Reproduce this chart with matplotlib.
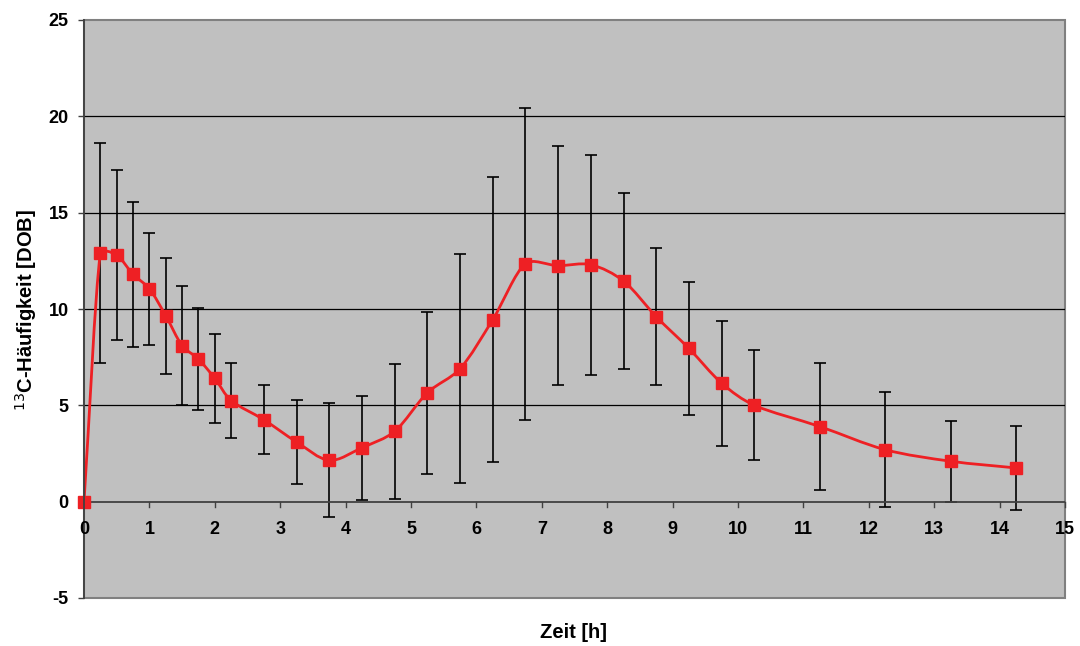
import numpy as np
import matplotlib.pyplot as plt
from matplotlib.path import Path
from matplotlib.patches import PathPatch, Rectangle

plt.rcParams['font.family'] = ['Liberation Sans', 'DejaVu Sans']
plt.rcParams['axes.unicode_minus'] = False

# data
zeit = [0, 0.25, 0.5, 0.75, 1, 1.25, 1.5, 1.75, 2, 2.25, 2.75, 3.25, 3.75, 4.25,
        4.75, 5.25, 5.75, 6.25, 6.75, 7.25, 7.75, 8.25, 8.75, 9.25, 9.75, 10.25,
        11.25, 12.25, 13.25, 14.25]
dob = [0, 12.9, 12.8, 11.8, 11.05, 9.65, 8.1, 7.4, 6.4, 5.25, 4.25, 3.1, 2.15, 2.8,
       3.65, 5.65, 6.9, 9.45, 12.35, 12.25, 12.3, 11.45, 9.6, 7.95, 6.15, 5.0,
       3.9, 2.7, 2.1, 1.75]
sd = [0, 5.7, 4.4, 3.75, 2.9, 3.0, 3.1, 2.65, 2.3, 1.95, 1.8, 2.2, 2.95, 2.7,
      3.5, 4.2, 5.95, 7.4, 8.1, 6.2, 5.7, 4.55, 3.55, 3.45, 3.25, 2.85,
      3.3, 3.0, 2.1, 2.2]

red = '#EE2024'
axis_col = '#404040'

fig = plt.figure(figsize=(10.8, 6.46), dpi=100)
ax = fig.add_axes([84/1080, 1 - 598/646, (1065 - 84)/1080, (598 - 20)/646])
ax.set_facecolor('#C0C0C0')
ax.set_xlim(0, 15)
ax.set_ylim(-5, 25)

# horizontal gridlines
for g in [5, 10, 15, 20]:
    ax.axhline(g, color='black', lw=0.9, zorder=1)

# error bars
ax.errorbar(zeit[1:], dob[1:], yerr=sd[1:], fmt='none', ecolor='black',
            elinewidth=1.2, capsize=4, capthick=1.2, zorder=2)

# smoothed line: bezier through the points (tension 1/6), with the tangent
# shortened next to a much longer neighbouring segment, worked out in screen units
sx, sy = 981 / 15, 578 / 30
x = np.array(zeit, float)
y = np.array(dob, float)
P = np.column_stack([x * sx, y * sy])
n = len(P)
verts = [tuple(P[0])]
codes = [Path.MOVETO]
for i in range(n - 1):
    p1, p2 = P[i], P[i + 1]
    d12 = np.hypot(*(p2 - p1))
    if i > 0:
        p0 = P[i - 1]
        d01 = np.hypot(*(p1 - p0))
        c1 = p1 + (p2 - p0) / 6 * min(1.0, 2 * d12 / (d01 + d12))
    else:
        c1 = p1 + (p2 - p1) / 3
    if i < n - 2:
        p3 = P[i + 2]
        d23 = np.hypot(*(p3 - p2))
        c2 = p2 - (p3 - p1) / 6 * min(1.0, 2 * d12 / (d12 + d23))
    else:
        c2 = p2 - (p2 - p1) / 3
    verts += [tuple(c1), tuple(c2), tuple(p2)]
    codes += [Path.CURVE4] * 3
verts = [(vx / sx, vy / sy) for vx, vy in verts]
ax.add_patch(PathPatch(Path(verts, codes), facecolor='none', edgecolor=red,
                       lw=2.0, zorder=3, capstyle='round'))
ax.plot(zeit, dob, 's', color=red, markersize=8, zorder=4, clip_on=False)

# axes frame
for s in ['top', 'right', 'bottom']:
    ax.spines[s].set_visible(False)
ax.add_patch(Rectangle((0, 0), 1, 1, transform=ax.transAxes, fill=False,
                       edgecolor='#808080', lw=1.5, zorder=0.5, clip_on=False))
ax.spines['left'].set_color(axis_col)
ax.spines['left'].set_linewidth(1.3)
ax.spines['left'].set_zorder(5)
ax.axhline(0, color=axis_col, lw=1.3, zorder=2.5)

ax.set_yticks([-5, 0, 5, 10, 15, 20, 25])
ax.set_xticks(range(0, 16))
ax.tick_params(axis='y', direction='out', length=4.5, width=1.0,
               color=axis_col, labelsize=13, pad=6.5)
ax.tick_params(axis='x', length=0, labelbottom=False)
for lab in ax.get_yticklabels():
    lab.set_fontweight('bold')

# x tick marks and labels along the y=0 line
for t in range(0, 16):
    ax.plot([t, t], [0, -0.3], color=axis_col, lw=1.0, zorder=2.5, clip_on=False)
    ax.text(t, -1.45, str(t), ha='center', va='center', fontsize=13,
            fontweight='bold', zorder=6)

fig.text(574/1080, 1 - 632/646, 'Zeit [h]', ha='center', va='center',
         fontsize=14.5, fontweight='bold')
fig.text(26/1080, 1 - 310/646, r'$^{13}$C-Häufigkeit [DOB]', ha='center',
         va='center', rotation=90, fontsize=14.5, fontweight='bold')

fig.savefig('out.png', dpi=100)
